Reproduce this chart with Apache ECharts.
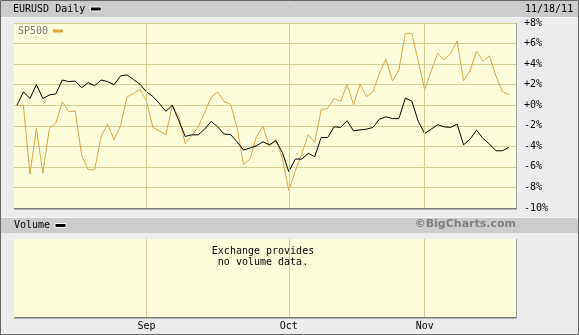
<!DOCTYPE html>
<html>
<head>
<meta charset="utf-8">
<script src="https://cdn.jsdelivr.net/npm/echarts@6/dist/echarts.min.js"></script>
<style>
  html, body { margin: 0; padding: 0; background: #ececec; }
  #chart { width: 579px; height: 335px; }
</style>
</head>
<body>
<div id="chart"></div>
<script>
// daily % change since Aug 4 2011, one value per weekday up to Nov 18 2011
var eurusd = [0.0, 1.3, 0.65, 2.0, 0.65, 1.0, 1.1, 2.45, 2.3, 2.35,
  1.7, 2.2, 1.9, 2.45, 2.3, 2.0, 2.85, 2.95, 2.5, 2.05,
  1.3, 0.85, 0.17, -0.6, 0.0, -1.5, -3.04, -2.88, -2.88, -2.33,
  -1.58, -2.1, -2.8, -2.85, -3.56, -4.37, -4.17, -3.94, -3.56, -3.85,
  -3.46, -4.6, -6.47, -5.24, -5.24, -4.69, -5.0, -3.14, -3.14, -2.1,
  -2.16, -1.5, -2.5, -2.4, -2.33, -2.16, -1.36, -1.13, -1.3, -1.3,
  0.68, 0.42, -1.58, -2.75, -2.33, -1.9, -2.1, -2.16, -1.84, -3.85,
  -3.3, -2.43, -3.23, -3.78, -4.43, -4.43, -4.1];
var sp500 = [0.0, -0.06, -6.7, -2.26, -6.6, -2.26, -1.75, 0.33, -0.64, -0.55,
  -4.9, -6.27, -6.27, -3.04, -1.84, -3.36, -2.0, 0.82, 1.13, 1.55,
  0.42, -2.16, -2.5, -2.87, -0.06, -1.13, -3.72, -2.97, -2.1, -0.71,
  0.75, 1.3, 0.36, 0.1, -2.16, -5.79, -5.24, -3.04, -2.04, -4.0,
  -3.3, -5.14, -8.3, -6.4, -4.7, -2.88, -3.62, -0.45, -0.29, 0.65,
  0.36, 2.04, 0.04, 2.04, 0.84, 1.3, 3.1, 4.47, 2.37, 3.4,
  7.0, 7.0, 4.3, 1.5, 3.34, 5.05, 4.4, 5.05, 6.25, 2.37,
  3.34, 5.28, 4.3, 4.8, 2.85, 1.33, 1.0];
var monthTicks = [20, 42, 63]; // Sep 1, Oct 3, Nov 1
var monthNames = ['Sep', 'Oct', 'Nov'];

var mono = 'DejaVu Sans Mono';
var gridColor = '#d2cd92';
var plotBg = '#fefedc';

function toPoints(arr) {
  return arr.map(function (v, i) { return [i, v]; });
}

function monthLines(axis) {
  return {
    type: 'line', xAxisIndex: axis, yAxisIndex: axis, data: [], z: 1,
    markLine: {
      silent: true, symbol: 'none', animation: false,
      label: { show: false },
      lineStyle: { color: gridColor, type: 'solid', width: 1 },
      data: monthTicks.map(function (v) { return { xAxis: v }; })
    }
  };
}

var chart = echarts.init(document.getElementById('chart'));

var option = {
  backgroundColor: '#ececec',
  animation: false,
  textStyle: { fontFamily: mono },
  legend: [{
    data: ['EURUSD Daily'], left: 13, top: 4, padding: 0, align: 'right',
    selectedMode: false, icon: 'rect', itemWidth: 11, itemHeight: 4,
    itemStyle: { borderColor: '#fff', borderWidth: 1 },
    textStyle: { fontFamily: mono, fontSize: 10, color: '#000' }
  }, {
    data: ['SP500'], left: 18, top: 26, padding: 0, align: 'right',
    selectedMode: false, icon: 'rect', itemWidth: 10, itemHeight: 3,
    textStyle: { fontFamily: mono, fontSize: 10, color: '#777' }
  }],
  grid: [
    { left: 14, top: 23, width: 502, height: 185, show: true, backgroundColor: plotBg, borderWidth: 0 },
    { left: 14, top: 239, width: 502, height: 78, show: true, backgroundColor: plotBg, borderWidth: 0 }
  ],
  xAxis: [
    { type: 'value', gridIndex: 0, min: -0.46, max: 77.1, show: false },
    {
      type: 'value', gridIndex: 1, min: -0.46, max: 77.1,
      axisLine: { show: false }, axisTick: { show: false }, splitLine: { show: false },
      axisLabel: {
        customValues: monthTicks, margin: 4,
        fontFamily: mono, fontSize: 10, color: '#000',
        formatter: function (v) { return monthNames[monthTicks.indexOf(v)]; }
      }
    }
  ],
  yAxis: [
    {
      type: 'value', gridIndex: 0, position: 'right', min: -10, max: 8, interval: 2,
      axisLine: { show: false }, axisTick: { show: false },
      splitLine: { lineStyle: { color: gridColor, width: 1 } },
      axisLabel: {
        margin: 8, fontFamily: mono, fontSize: 10, color: '#000',
        formatter: function (v) { return (v >= 0 ? '+' : '') + v + '%'; }
      }
    },
    { type: 'value', gridIndex: 1, min: 0, max: 1, show: false }
  ],
  series: [
    monthLines(0),
    monthLines(1),
    {
      name: 'SP500', type: 'line', xAxisIndex: 0, yAxisIndex: 0, z: 3,
      data: toPoints(sp500), showSymbol: false, color: '#dba443',
      lineStyle: { color: '#dba443', width: 1 }
    },
    {
      name: 'EURUSD Daily', type: 'line', xAxisIndex: 0, yAxisIndex: 0, z: 4,
      data: toPoints(eurusd), showSymbol: false, color: '#000',
      lineStyle: { color: '#000', width: 1 }
    }
  ],
  graphic: [
    // frame and header bars
    { type: 'rect', z: -10, shape: { x: 1, y: 1, width: 577, height: 16 }, style: { fill: '#cccccc' } },
    { type: 'rect', z: -10, shape: { x: 1, y: 17, width: 577, height: 1 }, style: { fill: '#f6f6f6' } },
    { type: 'rect', z: -10, shape: { x: 1, y: 218, width: 577, height: 15 }, style: { fill: '#cccccc' } },
    { type: 'rect', z: -10, shape: { x: 1, y: 217, width: 577, height: 1 }, style: { fill: '#f6f6f6' } },
    { type: 'rect', z: 100, shape: { x: 0.5, y: 0.5, width: 578, height: 334 }, style: { fill: null, stroke: '#666', lineWidth: 1 } },
    // plot shadows
    { type: 'rect', z: 50, shape: { x: 14, y: 208, width: 503, height: 1.5 }, style: { fill: '#7a7a7a' } },
    { type: 'rect', z: 50, shape: { x: 516, y: 23, width: 1, height: 186 }, style: { fill: '#9a9a9a' } },
    { type: 'rect', z: 50, shape: { x: 14, y: 317, width: 503, height: 1.5 }, style: { fill: '#7a7a7a' } },
    { type: 'rect', z: 50, shape: { x: 516, y: 239, width: 1, height: 79 }, style: { fill: '#9a9a9a' } },
    // texts
    { type: 'text', z: 60, left: 525, top: 4, style: { text: '11/18/11', font: '10px "DejaVu Sans Mono"', fill: '#000' } },
    { type: 'text', z: 60, left: 14, top: 220, style: { text: 'Volume', font: '10px "DejaVu Sans Mono"', fill: '#000' } },
    { type: 'rect', z: 60, shape: { x: 55, y: 223.5, width: 11, height: 4 }, style: { fill: '#000', stroke: '#fff', lineWidth: 1 } },
    { type: 'text', z: 60, right: 63, top: 219, style: { text: '\u00a9BigCharts.com', font: 'bold 11px "DejaVu Sans"', fill: '#808080' } },
    {
      type: 'text', z: 60, x: 263, y: 246,
      style: { text: 'Exchange provides\nno volume data.', font: '10px "DejaVu Sans Mono"', fill: '#000', align: 'center', lineHeight: 11 }
    }
  ]
};

chart.setOption(option);
</script>
</body>
</html>
